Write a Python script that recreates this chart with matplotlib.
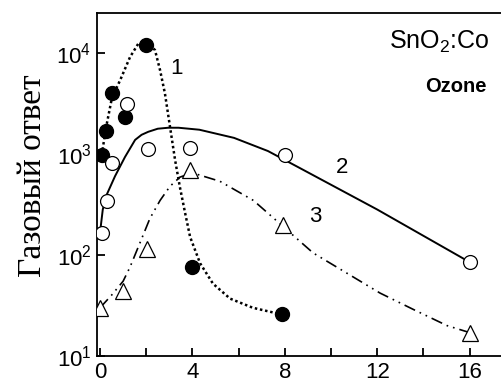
import matplotlib
matplotlib.use("Agg")
import matplotlib.pyplot as plt

plt.rcParams['font.family'] = ['Liberation Sans', 'DejaVu Sans']
plt.rcParams['mathtext.fontset'] = 'custom'
plt.rcParams['mathtext.rm'] = 'Liberation Sans'
plt.rcParams['mathtext.it'] = 'Liberation Sans:italic'
plt.rcParams['mathtext.bf'] = 'Liberation Sans:bold'

# measured points (x, gas response)
x1 = [0.07, 0.27, 0.5, 1.08, 2.0, 3.97, 7.87]
y1 = [980, 1700, 4050, 2340, 12000, 76, 26]

x2 = [0.07, 0.29, 0.51, 1.16, 2.09, 3.9, 8.0, 16.0]
y2 = [166, 340, 815, 3100, 1130, 1150, 980, 86]

x3 = [0.0, 1.0, 2.05, 3.9, 7.9, 16.0]
y3 = [30, 44, 114, 690, 200, 17]

# fitted curves
c1_x = [0.04, 0.26, 0.52, 0.87, 1.30, 1.65, 2.0, 2.38, 2.60, 2.81, 3.03, 3.25,
        3.46, 3.68, 3.90, 4.33, 4.89, 5.63, 6.62, 7.49, 8.10]
c1_y = [871, 1820, 3630, 5370, 9120, 12300, 13000, 10700, 6760, 3980, 1860, 871,
        468, 263, 151, 83, 52, 37, 30, 27, 24]

c2_x = [0.0, 0.12, 0.3, 0.65, 1.08, 1.52, 1.8, 2.09, 2.5, 2.95, 3.4, 4.3, 5.8,
        7.27, 8.66, 12.0, 16.0]
c2_y = [166, 282, 400, 603, 933, 1380, 1550, 1660, 1780, 1820, 1820, 1740, 1445,
        1070, 724, 282, 85]

c3_x = [0.0, 0.5, 1.0, 1.30, 1.73, 2.16, 2.60, 3.03, 3.46, 3.8, 4.19, 5.19, 6.64,
        7.79, 9.22, 10.69, 12.12, 13.55, 15.02, 16.02]
c3_y = [30, 40, 55, 76, 132, 230, 347, 479, 590, 630, 631, 537, 347,
        204, 105, 66, 42, 29, 20, 17]

x_ticks = [0, 4, 8, 12, 16]
y_ticks = [10, 100, 1000, 10000]
y_labels = ['$10^{1}$', '$10^{2}$', '$10^{3}$', '$10^{4}$']

fig = plt.figure(figsize=(5.02, 3.87), dpi=100)
ax = fig.add_axes([97 / 502, 31 / 387, 405 / 502, 343 / 387])

ax.plot(c1_x, c1_y, color='black', linewidth=1.8, dashes=(1, 1.1), zorder=2)
ax.plot(c2_x, c2_y, color='black', linestyle='-', linewidth=1.4, zorder=2)
ax.plot(c3_x, c3_y, color='black', linewidth=1.2, dashes=(7, 3, 1, 3, 1, 3), zorder=2)

ax.plot(x1, y1, 'o', color='black', markersize=10, linestyle='none', zorder=3)
ax.plot(x2, y2, 'o', markerfacecolor='white', markeredgecolor='black',
        markeredgewidth=0.9, markersize=10, linestyle='none', zorder=3)
ax.plot(x3, y3, '^', markerfacecolor='white', markeredgecolor='black',
        markeredgewidth=0.9, markersize=11, linestyle='none', zorder=3)

ax.set_yscale('log')
ax.set_xlim(-0.13, 17.4)
ax.set_ylim(10, 24900)

ax.set_xticks(x_ticks)
ax.set_xticklabels([str(t) for t in x_ticks])
ax.set_xticks([2, 6, 10, 14], minor=True)
ax.set_yticks(y_ticks)
ax.set_yticklabels(y_labels)
ax.yaxis.set_minor_locator(matplotlib.ticker.NullLocator())

ax.tick_params(axis='both', which='both', direction='in', length=6, width=1.3,
               labelsize=16, top=False, right=False)
ax.tick_params(axis='x', pad=4)
ax.tick_params(axis='y', pad=4)

for side in ['left', 'bottom', 'top']:
    ax.spines[side].set_linewidth(1.3)
ax.spines['right'].set_visible(False)

# y label
fig.text(33 / 502, 1 - 176 / 387, 'Газовый ответ', rotation=90,
         family=['Liberation Serif', 'DejaVu Serif'], fontsize=24,
         ha='center', va='center')

ax.text(3.32, 7080, '1', fontsize=16, ha='center', va='center')
ax.text(10.48, 740, '2', fontsize=16, ha='center', va='center')
ax.text(9.31, 240, '3', fontsize=16, ha='center', va='center')
ax.text(0.970, 0.915, 'SnO$_2$:Co', transform=ax.transAxes, fontsize=18,
        ha='right', va='center')
ax.text(0.963, 0.787, 'Ozone', transform=ax.transAxes, fontsize=14.5,
        fontweight='bold', ha='right', va='center')

fig.savefig('out.png', dpi=100)
